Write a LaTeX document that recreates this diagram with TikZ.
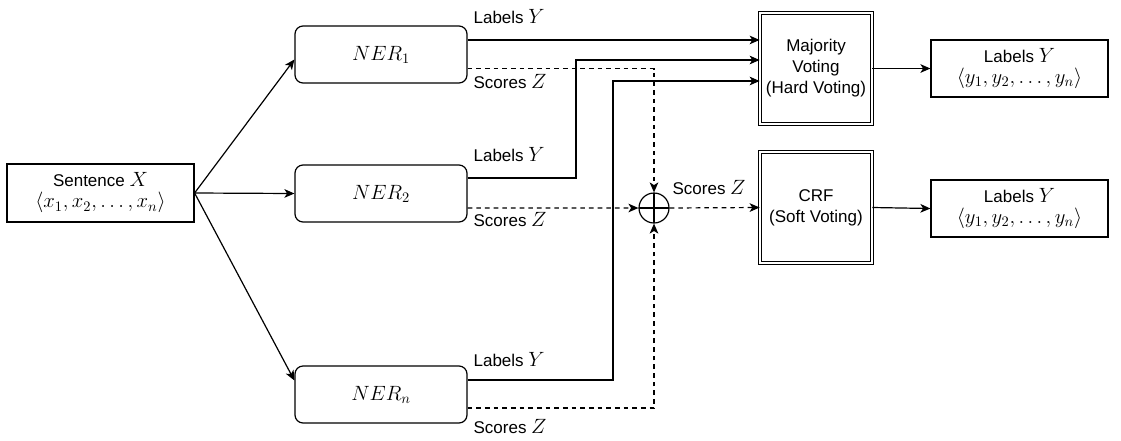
\RequirePackage{fix-cm}
\documentclass[tikz,border=0pt]{standalone}
\usepackage{fontspec}
\setmainfont{Liberation Sans}
\usetikzlibrary{arrows.meta,calc}
\newcommand\mm[1]{{\fontsize{15.5}{18}\selectfont$#1$}}
\begin{document}
\begin{tikzpicture}[x=0.75pt,y=-0.75pt,
  every node/.style={font=\fontsize{12.75}{15.75}\selectfont, inner sep=0pt},
  line width=0.9pt,
  arr/.style={-{Stealth[length=7.5pt,width=6.5pt,inset=2pt]}},
  dsh/.style={dash pattern=on 3.5pt off 3pt},
  nerbox/.style={draw, rounded corners=6pt, minimum width=129pt, minimum height=42.75pt},
  plainbox/.style={draw, align=center, minimum height=43.5pt},
  votebox/.style={draw, double, double distance=1.6pt, align=center, minimum width=83.7pt, minimum height=83pt},
  lbl/.style={anchor=west}
]
\useasboundingbox (0,0) rectangle (1121,440);

\node[plainbox, minimum width=140.25pt] (sent) at (100.5,193) {Sentence \mm{X}\\\mm{\langle x_1, x_2, \ldots, x_n\rangle}};

\node[nerbox] (ner1) at (381,54.5) {\mm{NER_1}};
\node[nerbox] (ner2) at (381,193.5) {\mm{NER_2}};
\node[nerbox] (nern) at (381,394.5) {\mm{NER_n}};

\node[votebox] (mv) at (816,68.5) {Majority\\Voting\\(Hard Voting)};
\node[votebox] (crf) at (816,207.5) {CRF\\(Soft Voting)};

\node[plainbox, minimum width=132.75pt, minimum height=42.75pt] (out1) at (1019.5,68.5) {Labels \mm{Y}\\\mm{\langle y_1, y_2, \ldots, y_n\rangle}};
\node[plainbox, minimum width=132.75pt, minimum height=42.75pt] (out2) at (1019.5,208.5) {Labels \mm{Y}\\\mm{\langle y_1, y_2, \ldots, y_n\rangle}};

\node[draw, circle, minimum size=22.5pt,
  path picture={\draw (path picture bounding box.north) -- (path picture bounding box.south)
                       (path picture bounding box.west) -- (path picture bounding box.east);}] (sum) at (654,208) {};

% fan-out
\draw[arr] (sent.east) -- ([yshift=-3.75pt]ner1.west);
\draw[arr] (sent.east) -- (ner2.west);
\draw[arr] (sent.east) -- ([yshift=10.5pt]nern.west);

% label connectors
\coordinate (y1) at ([yshift=10.9pt]ner1.east);
\coordinate (y2) at ([yshift=11.6pt]ner2.east);
\coordinate (y3) at ([yshift=10.9pt]nern.east);
\coordinate (v2) at (576,60);
\coordinate (v3) at (613,81);
\draw[arr] (y1) -- (y1 -| mv.west);
\draw[arr] (y2) -| (v2) -- (v2 -| mv.west);
\draw[arr] (y3) -| (v3) -- (v3 -| mv.west);

% score connectors
\coordinate (z1) at ([yshift=-10.5pt]ner1.east);
\coordinate (z2) at ([yshift=-10.9pt]ner2.east);
\coordinate (z3) at ([yshift=-10.1pt]nern.east);
\draw[dsh,arr] (z1) -| (sum.north);
\draw[dsh,arr] (z2) -- (sum.west);
\draw[dsh,arr] (z3) -| (sum.south);
\draw[dsh,arr] (sum.east) -- (crf.west);

\draw[arr] (mv.east) -- (out1.west);
\draw[arr] (crf.east) -- (out2.west);

% labels
\node[lbl] (t1) at (473,17) {Labels \mm{Y}};
\node[lbl] (s1) at (473,82) {Scores \mm{Z}};
\node[lbl] (t2) at (473,155) {Labels \mm{Y}};
\node[lbl] (s2) at (473,220) {Scores \mm{Z}};
\node[lbl] (t3) at (473,360) {Labels \mm{Y}};
\node[lbl] (s3) at (473,427) {Scores \mm{Z}};
\node[lbl] (sz) at (672,188) {Scores \mm{Z}};
\end{tikzpicture}
\end{document}
